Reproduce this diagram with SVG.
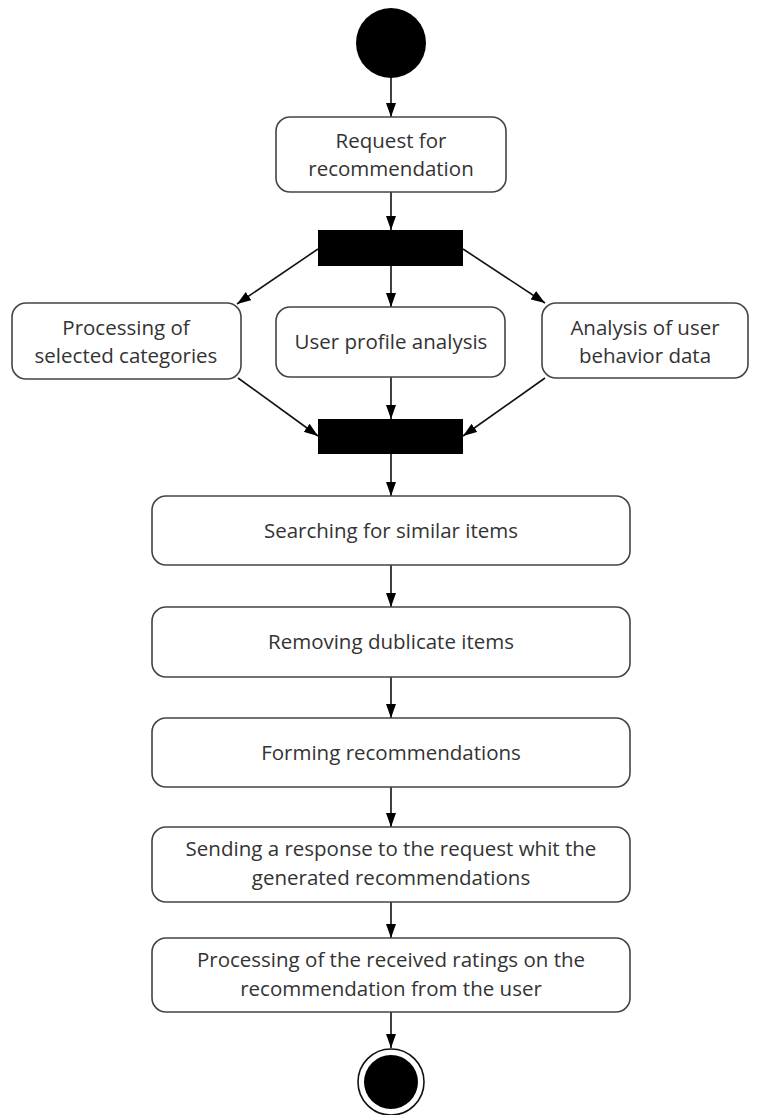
<svg xmlns="http://www.w3.org/2000/svg" width="760" height="1115" viewBox="0 0 760 1115">
<style>
.box{fill:#fff;stroke:#444;stroke-width:1.6}
.bar{fill:#000}
.t{font-family:"Open Sans","Liberation Sans",sans-serif;font-size:20.5px;fill:#333;text-anchor:middle}
.c{stroke:#111;stroke-width:1.6;fill:none;marker-end:url(#ah)}
</style>
<defs>
<marker id="ah" viewBox="0 0 14 10" refX="14" refY="5" markerWidth="14" markerHeight="10" markerUnits="userSpaceOnUse" orient="auto">
<path d="M0,0 L14,5 L0,10 Z" fill="#000"/>
</marker>
</defs>
<rect width="760" height="1115" fill="#fff"/>
<g id="connectors">
<line class="c" x1="391" y1="78" x2="391" y2="117"/>
<line class="c" x1="391" y1="192" x2="391" y2="230"/>
<line class="c" x1="318" y1="249" x2="237" y2="304"/>
<line class="c" x1="391" y1="266" x2="391" y2="307"/>
<line class="c" x1="463" y1="249" x2="545" y2="303"/>
<line class="c" x1="238" y1="378" x2="318" y2="436"/>
<line class="c" x1="391" y1="377" x2="391" y2="419"/>
<line class="c" x1="545" y1="378" x2="463" y2="436"/>
<line class="c" x1="391" y1="454" x2="391" y2="496"/>
<line class="c" x1="391" y1="565" x2="391" y2="607"/>
<line class="c" x1="391" y1="677" x2="391" y2="718"/>
<line class="c" x1="391" y1="787" x2="391" y2="827"/>
<line class="c" x1="391" y1="902" x2="391" y2="938"/>
<line class="c" x1="391" y1="1012" x2="391" y2="1048"/>
</g>
<g id="start"><circle cx="391" cy="43" r="35" fill="#000"/></g>
<g id="request">
<rect class="box" x="276" y="117" width="230" height="75" rx="14"/>
<text class="t" x="391" y="148">Request for</text>
<text class="t" x="391" y="176">recommendation</text>
</g>
<g id="fork"><rect class="bar" x="318" y="230" width="145" height="36"/></g>
<g id="categories">
<rect class="box" x="12" y="303" width="229" height="76" rx="14"/>
<text class="t" x="126" y="335">Processing of</text>
<text class="t" x="126" y="363">selected categories</text>
</g>
<g id="profile">
<rect class="box" x="276" y="307" width="229" height="70" rx="14"/>
<text class="t" x="391" y="349">User profile analysis</text>
</g>
<g id="behavior">
<rect class="box" x="542" y="303" width="206" height="75" rx="14"/>
<text class="t" x="645" y="335">Analysis of user</text>
<text class="t" x="645" y="363">behavior data</text>
</g>
<g id="join"><rect class="bar" x="318" y="419" width="145" height="35"/></g>
<g id="searching">
<rect class="box" x="152" y="496" width="478" height="69" rx="14"/>
<text class="t" x="391" y="538">Searching for similar items</text>
</g>
<g id="removing">
<rect class="box" x="152" y="607" width="478" height="70" rx="14"/>
<text class="t" x="391" y="649">Removing dublicate items</text>
</g>
<g id="forming">
<rect class="box" x="152" y="718" width="478" height="69" rx="14"/>
<text class="t" x="391" y="760">Forming recommendations</text>
</g>
<g id="sending">
<rect class="box" x="152" y="827" width="478" height="75" rx="14"/>
<text class="t" x="391" y="856">Sending a response to the request whit the</text>
<text class="t" x="391" y="885">generated recommendations</text>
</g>
<g id="ratings">
<rect class="box" x="152" y="938" width="478" height="74" rx="14"/>
<text class="t" x="391" y="967">Processing of the received ratings on the</text>
<text class="t" x="391" y="996">recommendation from the user</text>
</g>
<g id="end">
<circle cx="391" cy="1082" r="33" fill="#fff" stroke="#111" stroke-width="1.6"/>
<circle cx="391" cy="1082" r="27" fill="#000"/>
</g>
</svg>
